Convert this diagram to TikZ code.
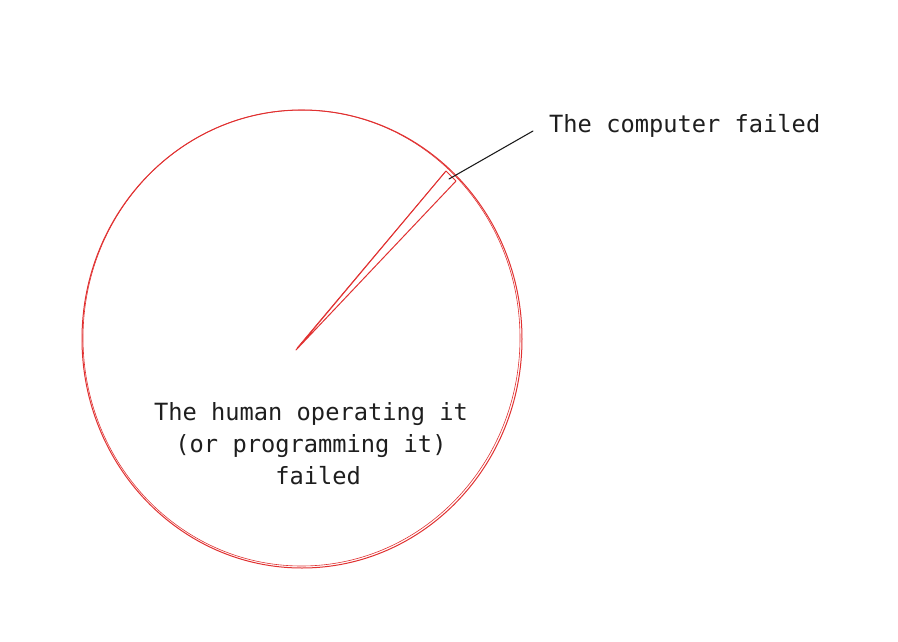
\documentclass[tikz,border=0pt]{standalone}
\usepackage{fontspec}
\setmonofont{DejaVu Sans Mono}
\definecolor{sketchred}{HTML}{E03131}
\definecolor{inkblack}{HTML}{1E1E1E}
\begin{document}
\begin{tikzpicture}[x=1pt,y=-1pt,
  redline/.style={draw=sketchred,line width=1pt,line join=round,line cap=round},
  blackline/.style={draw=inkblack,line width=1.1pt,line cap=round},
  lbl/.style={font=\ttfamily\fontsize{23.7pt}{32pt}\selectfont,text=inkblack,inner sep=0pt,align=center}]
\useasboundingbox (0,0) rectangle (898,641);
% circle (hand-drawn look: two strokes)
\draw[redline] (302,339) ellipse [x radius=220pt, y radius=229pt];
\draw[redline,line width=0.6pt] (301.5,338) ellipse [x radius=218.5pt, y radius=228pt];
% wedge
\coordinate (apex) at (296,350);
\coordinate (w1) at (446,171);
\coordinate (w2) at (456,181);
\coordinate (tip) at (449,179);
\draw[redline] (apex) -- (w1) -- (w2) -- cycle;
\draw[redline,line width=0.6pt] (297,348) -- (445,172);
% labels
\node[lbl,anchor=west] (comp) at (549,126) {The computer failed};
\node[lbl] (human) at (311,444) {The human operating it\\(or programming it)\\\hspace*{0.6em}failed\hspace*{0em}};
\coordinate (lend) at (533,131);
\draw[blackline] (tip) -- (lend);
\end{tikzpicture}
\end{document}
